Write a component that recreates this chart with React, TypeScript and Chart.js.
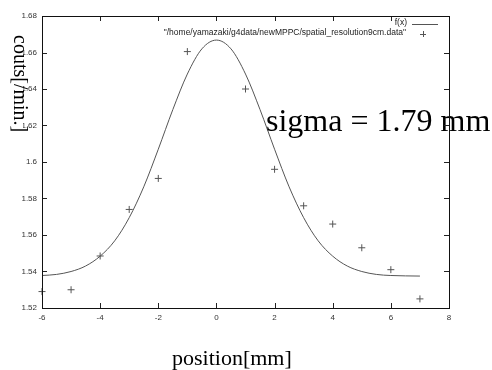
import React, { useEffect, useRef } from "react";
import { Chart, registerables } from "chart.js";

Chart.register(...registerables);

// Measured data points ("+" markers)
const dataX = [-6, -5, -4, -3, -2, -1, 1, 2, 3, 4, 5, 6, 7];
const dataY = [1.529, 1.530, 1.5485, 1.574, 1.591, 1.6605, 1.640, 1.596, 1.576, 1.566, 1.553, 1.541, 1.525];

const fitX = [-6, -5.5, -5, -4.5, -4, -3.5, -3, -2.5, -2, -1.5, -1, -0.5, 0, 0.5, 1, 1.5, 2, 2.5, 3, 3.5, 4, 4.5, 5, 5.5, 6, 6.5, 7];
const fitY = [1.5378, 1.5384, 1.54, 1.543, 1.5484, 1.5568, 1.5695, 1.5864, 1.607, 1.6287, 1.6482, 1.662, 1.6668, 1.662, 1.6482, 1.6287, 1.607, 1.5864, 1.5695, 1.5568, 1.5484, 1.543, 1.54, 1.5384, 1.5378, 1.5376, 1.5375];

// Axis ticks
const xTickValues = [-6, -4, -2, 0, 2, 4, 6, 8];
const yTickValues = [1.52, 1.54, 1.56, 1.58, 1.6, 1.62, 1.64, 1.66, 1.68];
const yTickLabels = ["1.52", "1.54", "1.56", "1.58", "1.6", "1.62", "1.64", "1.66", "1.68"];

const fitLabel = "f(x)";
const dataLabel = '"/home/yamazaki/g4data/newMPPC/spatial_resolution9cm.data"';
const xTitle = "position[mm]";
const yTitle = "couts[/min.]";
const annotation = "sigma = 1.79 mm";

const LINE = "#555";
const TICKTXT = "#333";

export default function App() {
  const ref = useRef<HTMLCanvasElement | null>(null);

  useEffect(() => {
    document.body.style.margin = "0";
    const canvas = ref.current;
    if (!canvas) return;

    const overlay = {
      id: "overlay",
      afterDatasetsDraw(chart: any) {
        const ctx = chart.ctx;
        ctx.save();
        ctx.fillStyle = "#000";
        ctx.font = '32px "Liberation Serif"';
        ctx.textAlign = "left";
        ctx.textBaseline = "alphabetic";
        ctx.fillText(annotation, 266, 131);
        ctx.restore();
      },
      afterDraw(chart: any) {
        const ctx = chart.ctx;
        const a = chart.chartArea;
        const xs = chart.scales.x;
        const ys = chart.scales.y;
        ctx.save();
        // inward ticks on all four sides
        ctx.strokeStyle = "#222";
        ctx.lineWidth = 1;
        const tl = 5;
        ctx.beginPath();
        xTickValues.forEach((v) => {
          const px = Math.round(xs.getPixelForValue(v)) + 0.5;
          ctx.moveTo(px, a.bottom);
          ctx.lineTo(px, a.bottom - tl);
          ctx.moveTo(px, a.top);
          ctx.lineTo(px, a.top + tl);
        });
        yTickValues.forEach((v) => {
          const py = Math.round(ys.getPixelForValue(v)) + 0.5;
          ctx.moveTo(a.left, py);
          ctx.lineTo(a.left + tl, py);
          ctx.moveTo(a.right, py);
          ctx.lineTo(a.right - tl, py);
        });
        ctx.stroke();
        // plot frame
        ctx.strokeStyle = "#111";
        ctx.strokeRect(a.left + 0.5, a.top + 0.5, a.right - a.left, a.bottom - a.top);

        // legend
        ctx.font = '8.5px "Liberation Sans"';
        ctx.fillStyle = "#222";
        ctx.textAlign = "right";
        ctx.textBaseline = "middle";
        ctx.fillText(fitLabel, 407, 23);
        ctx.fillText(dataLabel, 406, 33);
        ctx.strokeStyle = LINE;
        ctx.beginPath();
        ctx.moveTo(412, 24.5);
        ctx.lineTo(438, 24.5);
        ctx.moveTo(420, 34.5);
        ctx.lineTo(426, 34.5);
        ctx.moveTo(423.5, 31);
        ctx.lineTo(423.5, 37);
        ctx.stroke();

        // y title with white background
        ctx.fillStyle = "#fff";
        ctx.fillRect(0, 33, 23, 100);
        ctx.save();
        ctx.translate(14, 35);
        ctx.rotate(Math.PI / 2);
        ctx.fillStyle = "#000";
        ctx.font = '20px "Liberation Serif"';
        ctx.textAlign = "left";
        ctx.textBaseline = "alphabetic";
        ctx.fillText(yTitle, 0, 0);
        ctx.restore();

        // x title
        ctx.fillStyle = "#000";
        ctx.font = '22px "Liberation Serif"';
        ctx.textAlign = "left";
        ctx.textBaseline = "alphabetic";
        ctx.fillText(xTitle, 172, 365);
        ctx.restore();
      },
    };

    const chart = new Chart(canvas, {
      type: "scatter",
      data: {
        datasets: [
          {
            label: fitLabel,
            data: fitX.map((x, i) => ({ x, y: fitY[i] })),
            showLine: true,
            borderColor: LINE,
            borderWidth: 1,
            pointRadius: 0,
            cubicInterpolationMode: "monotone",
            fill: false,
          },
          {
            label: dataLabel,
            data: dataX.map((x, i) => ({ x, y: dataY[i] })),
            showLine: false,
            clip: false,
            pointStyle: "cross",
            pointRadius: 3.5,
            borderColor: LINE,
            backgroundColor: LINE,
            pointBorderWidth: 1,
          },
        ],
      },
      options: {
        animation: false,
        responsive: false,
        layout: { padding: { left: 0, top: 16, right: 43, bottom: 0 } },
        plugins: {
          legend: { display: false },
          tooltip: { enabled: false },
          title: { display: false },
        },
        scales: {
          x: {
            type: "linear",
            min: -6,
            max: 8,
            afterBuildTicks: (s: any) => {
              s.ticks = xTickValues.map((v) => ({ value: v }));
            },
            afterFit: (s: any) => {
              s.height = 62;
            },
            grid: { display: false, drawTicks: false },
            border: { display: false },
            ticks: {
              padding: 5,
              color: TICKTXT,
              font: { family: "Liberation Sans", size: 8 },
              maxRotation: 0,
              autoSkip: false,
              callback: (v: any) => String(v),
            },
          },
          y: {
            type: "linear",
            min: 1.52,
            max: 1.68,
            afterBuildTicks: (s: any) => {
              s.ticks = yTickValues.map((v) => ({ value: v }));
            },
            afterFit: (s: any) => {
              s.width = 42;
            },
            grid: { display: false, drawTicks: false },
            border: { display: false },
            ticks: {
              padding: 5,
              color: TICKTXT,
              font: { family: "Liberation Sans", size: 8 },
              autoSkip: false,
              callback: (v: any) => {
                const i = yTickValues.findIndex((t) => Math.abs(t - v) < 1e-6);
                return i >= 0 ? yTickLabels[i] : "";
              },
            },
          },
        },
      },
      plugins: [overlay],
    });

    return () => chart.destroy();
  }, []);

  return <canvas ref={ref} width={492} height={370} style={{ display: "block" }} />;
}
